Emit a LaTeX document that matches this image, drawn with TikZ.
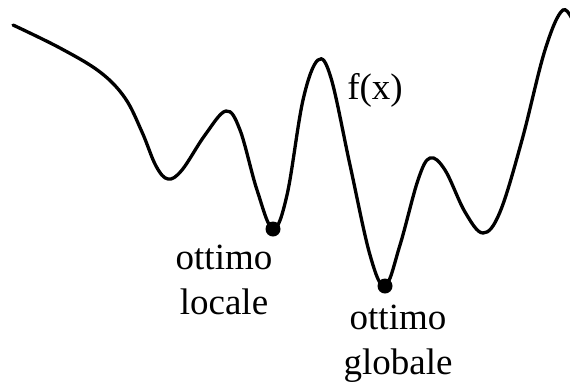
\documentclass[tikz,border=0pt]{standalone}
\usepackage{fontspec}
\setmainfont{Liberation Serif}
\begin{document}
\begin{tikzpicture}[x=1pt, y=-1pt, line width=3.3pt]
  \useasboundingbox (0,0) rectangle (570,384);
  \clip (0,0) rectangle (570,384);
  % Funzione
  \draw[line cap=round] plot[smooth, tension=0.6] coordinates {
    (13,25) (60,48) (100,72) (125,98) (142,132) (156,166) (168,179) (182,170)
    (205,135) (226,111) (240,130) (257,190) (273,229) (287,195) (303,100)
    (318,60) (331,78) (350,165) (370,255) (385,286) (400,245) (418,180)
    (430,158) (445,170) (465,212) (483,233) (500,212) (522,140) (545,50)
    (563,10) (576,28)
  };
  % Ottimi
  \coordinate (locale) at (273,229);
  \coordinate (globale) at (385,286);
  \fill (locale) circle (7.5);
  \fill (globale) circle (7.5);
  % Etichette
  \node (fx) at (375,90) {\fontsize{37}{45}\selectfont f(x)};
  \node (lab-locale) at (224,280) [align=center, font=\fontsize{37}{45}\selectfont] {ottimo\\locale};
  \node (lab-globale) at (398,344) [align=center, font=\fontsize{37}{45}\selectfont] {ottimo\\globale};
\end{tikzpicture}
\end{document}
